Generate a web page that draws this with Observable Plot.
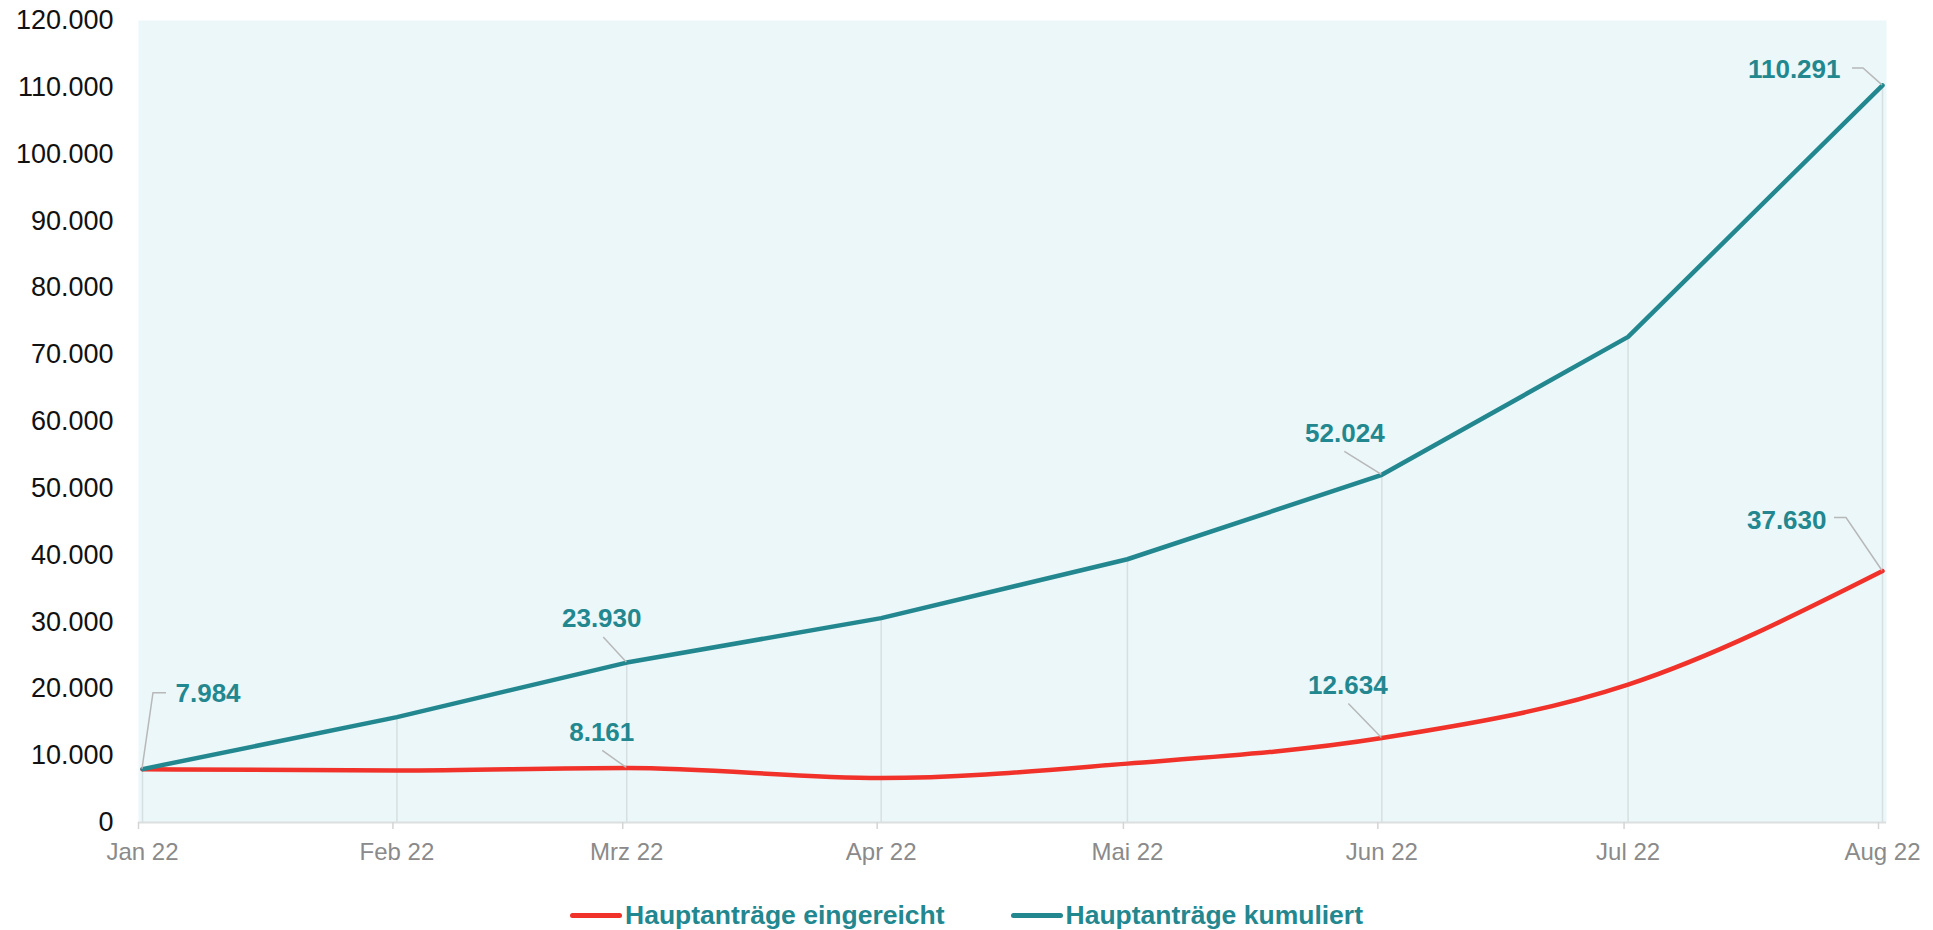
<!DOCTYPE html>
<html>
<head>
<meta charset="utf-8">
<script src="https://cdn.jsdelivr.net/npm/d3@7"></script>
<script src="https://cdn.jsdelivr.net/npm/@observablehq/plot@0.6"></script>
<style>
  html, body { margin: 0; padding: 0; background: #fff; overflow: hidden; }
  body { font-family: "Liberation Sans", Arial, sans-serif; }
  #legend { display: flex; justify-content: center; align-items: center; gap: 66px;
            height: 30px; padding-top: 16px; padding-right: 0px; }
  .item { display: flex; align-items: center; font-weight: bold; font-size: 26.5px; color: #23878f; white-space: nowrap; }
  .sw { display: inline-block; width: 52px; height: 5px; border-radius: 3px; margin-right: 3px; }
</style>
</head>
<body>
<div id="chart"></div>
<div id="legend"></div>
<script>
// ---- data ----
const months = ["2022-01-01", "2022-02-01", "2022-03-01", "2022-04-01", "2022-05-01", "2022-06-01", "2022-07-01", "2022-08-01"];
const monthLabels = ["Jan 22", "Feb 22", "Mrz 22", "Apr 22", "Mai 22", "Jun 22", "Jul 22", "Aug 22"];
const eingereicht = [7984, 7785, 8161, 6650, 8810, 12634, 20637, 37630];
const kumuliert = [7984, 15769, 23930, 30580, 39390, 52024, 72661, 110291];
const seriesNames = ["Hauptanträge eingereicht", "Hauptanträge kumuliert"];
const yTicks = [0, 10000, 20000, 30000, 40000, 50000, 60000, 70000, 80000, 90000, 100000, 110000, 120000];
const labeledEingereicht = [2, 5, 7];
const labeledKumuliert = [0, 2, 5, 7];

// ---- styles ----
const RED = "#f0322a", TEAL = "#23878f", BG = "#ebf7f9";
const dates = months.map(s => new Date(s + "T00:00:00Z"));
const de = d3.formatLocale({decimal: ",", thousands: ".", grouping: [3], currency: ["", " €"]});
const fmt = de.format(",d");

const rowsE = dates.map((d, i) => ({date: d, value: eingereicht[i]}));
const rowsK = dates.map((d, i) => ({date: d, value: kumuliert[i]}));

// annotation placement (pixel offsets from the point)
const annStyle = {
  eingereicht: {
    2: {leader: [-24, -17], tail: 0, dx: -25, dy: -35, anchor: "middle"},
    5: {leader: [-33, -34], tail: 0, dx: -34, dy: -52, anchor: "middle"},
    7: {leader: [-36, -53], tail: -12, dx: -56, dy: -50, anchor: "end"}
  },
  kumuliert: {
    0: {leader: [11, -76], tail: 13, dx: 33, dy: -75, anchor: "start"},
    2: {leader: [-23, -25], tail: 0, dx: -25, dy: -44, anchor: "middle"},
    5: {leader: [-37, -23], tail: 0, dx: -37, dy: -41, anchor: "middle"},
    7: {leader: [-19, -17], tail: -11, dx: -42, dy: -16, anchor: "end"}
  }
};
const annotations = [
  ...labeledEingereicht.map(i => ({key: "eingereicht", row: rowsE[i], style: annStyle.eingereicht[i]})),
  ...labeledKumuliert.map(i => ({key: "kumuliert", row: rowsK[i], style: annStyle.kumuliert[i]}))
];

function leaders(index, scales) {
  const g = d3.create("svg:g").attr("fill", "none").attr("stroke", "#b8b8b8").attr("stroke-width", 1.5);
  for (const a of annotations) {
    const px = scales.x(a.row.date), py = scales.y(a.row.value);
    const p1 = [px + a.style.leader[0], py + a.style.leader[1]];
    const pts = [[px, py], p1];
    if (a.style.tail) pts.push([p1[0] + a.style.tail, p1[1]]);
    g.append("path").attr("d", d3.line()(pts));
  }
  return g.node();
}

const textMarks = annotations.map(a => Plot.text([a.row], {
  x: "date", y: "value", text: d => fmt(d.value),
  dx: a.style.dx, dy: a.style.dy, textAnchor: a.style.anchor,
  fill: TEAL, fontWeight: "bold", fontSize: 26
}));

const chart = Plot.plot({
  width: 1933,
  height: 884,
  marginLeft: 138,
  marginRight: 47,
  marginTop: 20,
  marginBottom: 62,
  style: {fontFamily: "'Liberation Sans', Arial, sans-serif", background: "white", overflow: "visible"},
  x: {type: "utc", domain: [dates[0], dates[dates.length - 1]], insetLeft: 4, insetRight: 4, label: null},
  y: {domain: [0, 120000], label: null},
  marks: [
    Plot.frame({fill: BG, stroke: null}),
    Plot.ruleX(rowsK, {x: "date", y1: 0, y2: "value", stroke: "#d6dfe1", strokeWidth: 1.5}),
    Plot.ruleY([0], {stroke: "#dcdfe0", strokeWidth: 2}),
    Plot.axisY({ticks: yTicks, tickSize: 0, tickPadding: 25, fontSize: 27, fill: "#111", label: null, tickFormat: d => fmt(d)}),
    Plot.axisX({ticks: dates, tickSize: 7, stroke: "#d4d4d4", strokeWidth: 1.5, dx: -4, label: null, tickFormat: () => ""}),
    Plot.axisX({ticks: dates, tickSize: 0, tickPadding: 20, fontSize: 24, fill: "#8a8a8a", label: null, tickFormat: (d, i) => monthLabels[i]}),
    Plot.line(rowsE, {x: "date", y: "value", stroke: RED, strokeWidth: 4.5, curve: "monotone-x"}),
    Plot.line(rowsK, {x: "date", y: "value", stroke: TEAL, strokeWidth: 4.5}),
    leaders,
    ...textMarks
  ]
});
document.getElementById("chart").append(chart);

const legend = document.getElementById("legend");
[[seriesNames[0], RED], [seriesNames[1], TEAL]].forEach(([name, color]) => {
  const item = document.createElement("div");
  item.className = "item";
  const sw = document.createElement("span");
  sw.className = "sw";
  sw.style.background = color;
  item.append(sw, document.createTextNode(name));
  legend.append(item);
});
</script>
</body>
</html>
